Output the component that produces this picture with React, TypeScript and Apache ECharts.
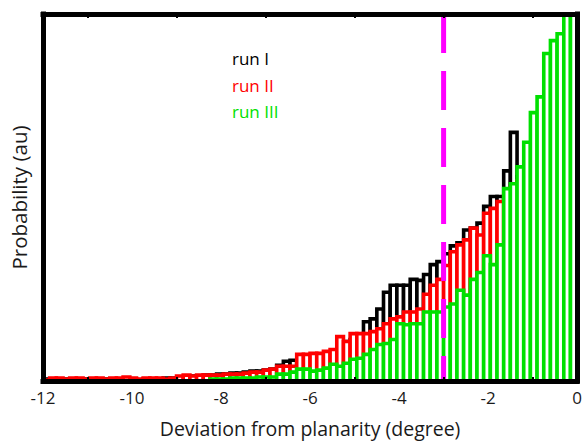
import React, { useEffect, useRef } from "react";
import * as echarts from "echarts";

// Histogram bins: 80 bins of 0.15 degree from -12 to 0
const BIN_START = -12;
const BIN_WIDTH = 0.15;

// run I (black) bin heights, arbitrary units
const runI = [
  2, 1, 2, 2, 1, 2, 2, 1, 2, 2, 1, 2, 2, 2, 1, 2, 2, 2, 3, 3,
  3, 4, 5, 5, 6, 6, 7, 7, 8, 8, 9, 10, 10, 11, 12, 16, 20, 21, 19, 20,
  23, 23, 25, 25, 25, 40, 42, 42, 60, 63, 73, 90, 97, 97, 97, 103, 102, 108, 118, 121,
  129, 137, 140, 153, 155, 160, 177, 187, 187, 213, 252, 207, 214, 226, 236, 209, 217, 212, 233, 230,
];

// run II (red)
const runII = [
  1, 3, 3, 2, 3, 3, 2, 3, 3, 2, 3, 3, 4, 3, 2, 3, 3, 3, 2, 3,
  5, 6, 5, 6, 6, 6, 6, 7, 7, 7, 8, 9, 9, 11, 12, 15, 15, 15, 27, 27,
  28, 28, 30, 32, 45, 40, 48, 48, 48, 50, 53, 58, 63, 65, 70, 70, 73, 88, 97, 103,
  117, 131, 138, 143, 155, 148, 170, 175, 182, 188, 196, 203, 206, 213, 222, 223, 225, 228, 229, 362,
];

// run III (green)
const runIII = [
  0, 0, 0, 0, 0, 0, 0, 0, 0, 0, 0, 0, 0, 0, 0, 0, 0, 0, 0, 0,
  0, 0, 0, 0, 0, 2, 2, 2, 3, 3, 3, 3, 4, 4, 4, 7, 7, 9, 12, 12,
  10, 11, 13, 17, 15, 18, 22, 23, 27, 32, 37, 38, 42, 58, 57, 58, 58, 70, 70, 70,
  75, 78, 92, 87, 103, 110, 127, 118, 138, 195, 200, 217, 242, 272, 288, 332, 345, 352, 380, 380,
];

const xTicks = [-12, -10, -8, -6, -4, -2, 0];
const minorTicks = [-11, -9, -7, -5, -3, -1];
const cutoff = -3;
const Y_MAX = 372;

const legendItems = [
  { name: "run I", color: "#000000" },
  { name: "run II", color: "#ff0000" },
  { name: "run III", color: "#00e000" },
];

const FONT = '"Open Sans", "DejaVu Sans", sans-serif';

function toBins(values: number[]) {
  return values.map((v, i) => [
    BIN_START + i * BIN_WIDTH,
    BIN_START + (i + 1) * BIN_WIDTH,
    v,
  ]);
}

function histSeries(name: string, values: number[], color: string, z: number) {
  return {
    type: "custom",
    name,
    clip: true,
    z,
    data: toBins(values),
    renderItem: (params: any, api: any) => {
      const h = api.value(2);
      if (!h) return null;
      const p0 = api.coord([api.value(0), 0]);
      const p1 = api.coord([api.value(1), h]);
      return {
        type: "rect",
        shape: {
          x: p0[0],
          y: p1[1],
          width: p1[0] - p0[0],
          height: p0[1] - p1[1],
        },
        style: { fill: "#ffffff", stroke: color, lineWidth: 3.6 },
      };
    },
  };
}

export default function App() {
  const ref = useRef<HTMLDivElement>(null);
  useEffect(() => {
    document.body.style.margin = "0";
    if (!ref.current) return;
    const chart = echarts.init(ref.current, undefined, { renderer: "svg" });
    const axisLineStyle = { color: "#000", width: 5, cap: "square" };
    chart.setOption({
      animation: false,
      backgroundColor: "#ffffff",
      grid: { left: 43, right: 6, top: 14, bottom: 58, containLabel: false },
      xAxis: [
        {
          type: "value",
          position: "bottom",
          min: -12,
          max: 0,
          interval: 2,
          z: 10,
          splitLine: { show: false },
          axisLine: { show: true, onZero: false, lineStyle: axisLineStyle },
          axisTick: {
            show: true,
            inside: true,
            length: 4,
            customValues: minorTicks,
            lineStyle: { color: "#000", width: 2 },
          },
          axisLabel: {
            show: true,
            customValues: xTicks,
            margin: 8,
            fontSize: 17,
            fontFamily: FONT,
            color: "#1a1a1a",
            formatter: (v: number) => String(v),
          },
          name: "Deviation from planarity (degree)",
          nameLocation: "middle",
          nameGap: 37,
          nameTextStyle: { fontSize: 19.5, fontFamily: FONT, color: "#1a1a1a" },
        },
        {
          type: "value",
          position: "top",
          min: -12,
          max: 0,
          interval: 2,
          z: 10,
          splitLine: { show: false },
          axisLine: { show: true, onZero: false, lineStyle: axisLineStyle },
          axisTick: {
            show: true,
            inside: true,
            length: 4,
            customValues: minorTicks,
            lineStyle: { color: "#000", width: 2 },
          },
          axisLabel: { show: false },
        },
      ],
      yAxis: [
        {
          type: "value",
          position: "left",
          min: 0,
          max: Y_MAX,
          z: 10,
          splitLine: { show: false },
          axisLine: { show: true, onZero: false, lineStyle: axisLineStyle },
          axisTick: { show: false },
          axisLabel: { show: false },
          name: "Probability (au)",
          nameLocation: "middle",
          nameGap: 14,
          nameTextStyle: { fontSize: 20.5, fontFamily: FONT, color: "#1a1a1a" },
        },
        {
          type: "value",
          position: "right",
          min: 0,
          max: Y_MAX,
          z: 10,
          splitLine: { show: false },
          axisLine: { show: true, onZero: false, lineStyle: axisLineStyle },
          axisTick: { show: false },
          axisLabel: { show: false },
        },
      ],
      series: [
        histSeries("run I", runI, legendItems[0].color, 2),
        histSeries("run II", runII, legendItems[1].color, 3),
        histSeries("run III", runIII, legendItems[2].color, 4),
        {
          type: "line",
          name: "cutoff",
          z: 6,
          symbol: "none",
          data: [
            [cutoff, Y_MAX],
            [cutoff, 0],
          ],
          lineStyle: { color: "#ff00ff", width: 5, type: [39, 18], cap: "butt" },
        },
      ],
      graphic: legendItems.map((it, i) => ({
        type: "text",
        left: 232,
        top: 50 + i * 26.5,
        z: 20,
        style: {
          text: it.name,
          fill: it.color,
          font: `17px ${FONT}`,
        },
      })),
    });
    return () => chart.dispose();
  }, []);
  return <div ref={ref} style={{ width: 585, height: 443 }} />;
}
